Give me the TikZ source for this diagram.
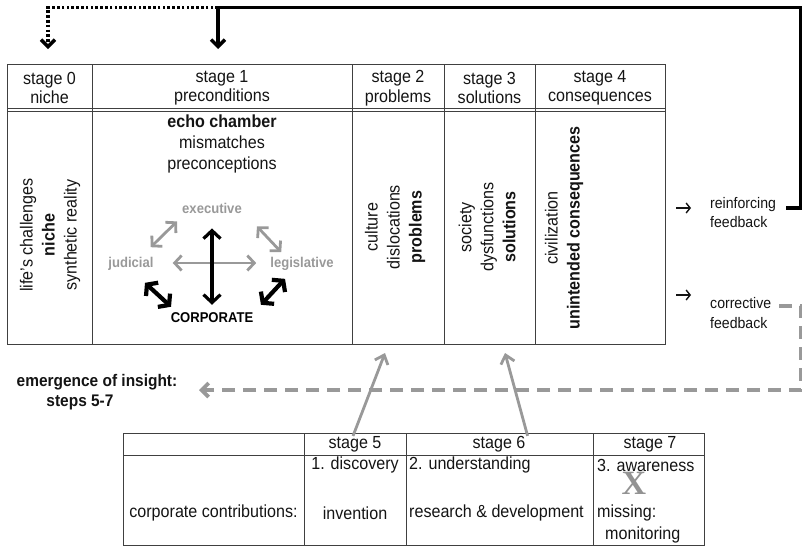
\documentclass[tikz,border=0pt]{standalone}
\usepackage{fontspec}
\setmainfont{Liberation Sans}[FakeStretch=0.92]
\newfontfamily\markfont{Liberation Serif}
\usetikzlibrary{arrows.meta}
\definecolor{rule}{gray}{0.25}
\definecolor{branch}{gray}{0.6}
\definecolor{insight}{gray}{0.6}
\definecolor{ink}{gray}{0.08}
\begin{document}
\begin{tikzpicture}[x=1pt,y=-1pt,
  every node/.style={inner sep=0pt, text=ink},
  hdr/.style={font=\fontsize{17.5}{19.5}\selectfont, align=center},
  body/.style={font=\fontsize{17.5}{21}\selectfont, align=center},
  vbody/.style={font=\fontsize{17.5}{22}\selectfont, align=center, rotate=90},
  branchlbl/.style={font=\fontsize{14.2}{15}\selectfont\bfseries, text=branch, inner sep=1pt},
  powerlbl/.style={font=\fontsize{14.2}{15}\selectfont\bfseries, text=black, inner sep=1pt},
  side/.style={font=\fontsize{15.3}{19.5}\selectfont, align=left, anchor=west},
  lowtxt/.style={font=\fontsize{17.5}{20}\selectfont},
  grid/.style={draw=rule, line width=1pt},
  garrow/.style={draw=branch, line width=2.8pt,
    {Straight Barb[length=7pt,width=15pt]}-{Straight Barb[length=7pt,width=15pt]}},
  karrow/.style={draw=black, line width=3.2pt,
    {Straight Barb[length=8pt,width=17pt]}-{Straight Barb[length=8pt,width=17pt]}},
  kthick/.style={draw=black, line width=4.2pt,
    {Straight Barb[length=7pt,width=18pt]}-{Straight Barb[length=7pt,width=18pt]}},
  pointer/.style={draw=ink, line width=1.4pt, -{Straight Barb[length=4pt,width=10pt]}},
  reinforce/.style={draw=black, line width=3.4pt},
  reinforcedot/.style={draw=black, line width=3.4pt, dash pattern=on 2.6pt off 2.2pt},
  downtip/.style={-{Straight Barb[length=7pt,width=14pt]}},
  correct/.style={draw=insight, line width=3.8pt, dash pattern=on 13pt off 8pt},
  uparrow/.style={draw=insight, line width=2.8pt, -{Straight Barb[length=8pt,width=14pt]}}
]
\useasboundingbox (0,0) rectangle (802,546);

% ---------- stage table ----------
\draw[grid] (7,64) rectangle (665,344);
\foreach \x in {92,352,444,535} \draw[grid] (\x,64) -- (\x,344);
\draw[grid] (7,108) -- (665,108);
\draw[grid] (7,111.5) -- (665,111.5);

\node[hdr] (h0) at (49.5,88) {stage 0\\niche};
\node[hdr] (h1) at (222,88) {stage 1\\preconditions};
\node[hdr] (h2) at (398,88) {stage 2\\problems};
\node[hdr] (h3) at (489.5,88) {stage 3\\solutions};
\node[hdr] (h4) at (600,88) {stage 4\\consequences};

\node[vbody] (b0) at (50,235) {life's challenges\\\textbf{niche}\\synthetic reality};
\node[body] (b1) at (222,144) {\textbf{echo chamber}\\mismatches\\preconceptions};
\node[vbody] (b2) at (395,227) {culture\\dislocations\\\textbf{problems}};
\node[vbody] (b3) at (487,227) {society\\dysfunctions\\\textbf{solutions}};
\node[vbody] (b4) at (564,228) {civilization\\\textbf{unintended consequences}};

% ---------- powers inside the echo chamber ----------
\node[branchlbl] (exe) at (212,208) {executive};
\node[branchlbl] (jud) at (131,264) {judicial};
\node[branchlbl] (leg) at (302,264) {legislative};
\node[powerlbl] (corp) at (212,318) {CORPORATE};

\draw[garrow] ([shift={(-4,-9)}]jud.north east) -- ([shift={(-4,7)}]exe.south west);
\draw[garrow] ([shift={(14,12)}]exe.south east) -- ([shift={(12,-4)}]leg.north west);
\draw[garrow] ([shift={(18,-1)}]jud.east) -- ([shift={(-13,-1)}]leg.west);
\draw[karrow] ([shift={(0,14)}]exe.south) -- ([shift={(0,-7)}]corp.north);
\draw[kthick] ([shift={(14,11)}]jud.south) -- ([shift={(1.5,-5)}]corp.north west);
\draw[kthick] ([shift={(-17,7)}]leg.south) -- ([shift={(6.5,-7)}]corp.north east);

% ---------- feedback labels ----------
\coordinate (ra1) at (676,208);
\coordinate (ra2) at (691,208);
\coordinate (ca1) at (676,295);
\coordinate (ca2) at (691,295);
\draw[pointer] (ra1) -- (ra2);
\draw[pointer] (ca1) -- (ca2);
\node[side] (reinf) at (710,212.5) {reinforcing\\feedback};
\node[side] (corr) at (710,313) {corrective\\feedback};

\coordinate (reinOut) at (786,208);
\coordinate (loopE) at (801,208);
\coordinate (loopNE) at (801,7.5);
\coordinate (hub) at (218,7.5);
\coordinate (dotNW) at (48,7.5);
\coordinate (s0in) at (48,49);
\coordinate (s1in) at (218,49);

\draw[reinforce, downtip] (reinOut) -- (loopE) -- (loopNE) -- (hub) -- (s1in);
\draw[reinforcedot, downtip] (hub) -- (dotNW) -- (s0in);

\coordinate (corrOut) at (779,306);
\coordinate (corrE) at (801,306);
\coordinate (corrSE) at (801,390);
\coordinate (insightIn) at (199,390);
\draw[correct, -{Straight Barb[length=7pt,width=14pt]}] (corrOut) -- (corrE) -- (corrSE) -- (insightIn);

\node[font=\fontsize{16.8}{20}\selectfont\bfseries] (em1) at (97,382) {emergence of insight:};
\node[font=\fontsize{16.8}{20}\selectfont\bfseries] (em2) at (80,402) {steps 5-7};

% ---------- insight table ----------
\draw[grid] (123,433) rectangle (704,545);
\draw[grid] (123,455) -- (704,455);
\foreach \x in {304,406,593} \draw[grid] (\x,433) -- (\x,545);

\node[lowtxt] (s5) at (355,444) {stage 5};
\node[lowtxt] (s6) at (499,444) {stage 6};
\node[lowtxt] (s7) at (650,444) {stage 7};
\node[lowtxt] (corpc) at (213.5,513) {corporate contributions:};
\node[lowtxt] (disc) at (355,465) {1. discovery};
\node[lowtxt] (inv) at (355,513) {invention};
\node[lowtxt, anchor=west] (und) at (409,465) {2. understanding};
\node[lowtxt, anchor=west] (rnd) at (409,513) {research \& development};
\node[lowtxt, anchor=west] (awa) at (597,465) {3. awareness};
\node[lowtxt, anchor=west] (mis) at (597,513) {missing:};
\node[lowtxt, anchor=west] (mon) at (605,535) {monitoring};
\node[font=\markfont\bfseries\fontsize{34}{34}\selectfont, text=gray!85] (gap) at (634,483) {X};

\coordinate (probIn) at (385,353);
\coordinate (solIn) at (505,353);
\draw[uparrow] ([xshift=-2pt]s5.north) -- (probIn);
\draw[uparrow] ([xshift=2pt]s6.north east) -- (solIn);
\end{tikzpicture}
\end{document}
